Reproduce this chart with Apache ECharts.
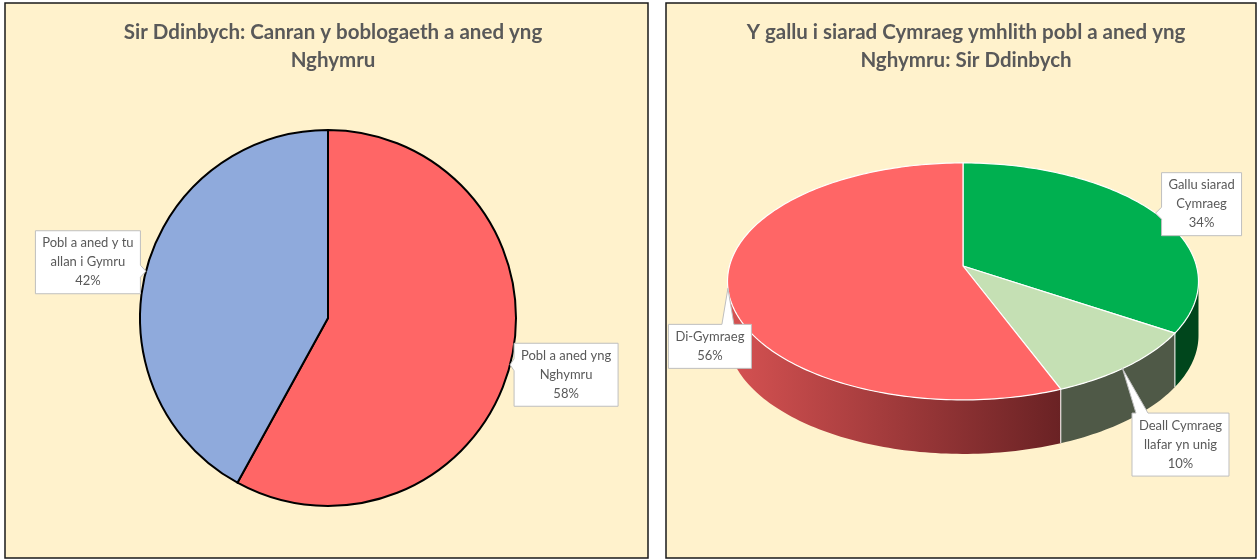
<!DOCTYPE html>
<html>
<head>
<meta charset="utf-8">
<script src="https://cdn.jsdelivr.net/npm/echarts@6/dist/echarts.min.js"></script>
<style>
  html, body { margin: 0; padding: 0; background: #fff; }
  #chart { width: 1260px; height: 560px; }
</style>
</head>
<body>
<div id="chart"></div>
<script>
// man geni - Sir Ddinbych
const birthNames = ['Pobl a aned yng\nNghymru', 'Pobl a aned y tu\nallan i Gymru'];
const birthValues = [58, 42];
// gallu siarad Cymraeg ymhlith pobl a aned yng Nghymru
const langNames = ['Gallu siarad\nCymraeg', 'Deall Cymraeg\nllafar yn unig', 'Di-Gymraeg'];
const langValues = [34, 10, 56];

// layout (pixels)
const PIE2D = { cx: 328, cy: 318, r: 188 };
// cx/cy = centre of the disc, sx/sy = half sizes, p = perspective, depth = wall height
const PIE3D = { cx: 963, cy: 266, sx: 233.5, sy: 116.5, p: 0.13, depth: 54 };
// where the callout points (fraction of slice) and box centre offset from the tip
const birthCallouts = [{ frac: 0.5, dx: 56, dy: 10 }, { frac: 0.5, dx: -58, dy: -9 }];
const langCallouts = [{ frac: 0.5, dx: 46, dy: -9 }, { frac: 0.55, dx: 58, dy: 76 }, { frac: 0.5, dx: -18, dy: 58 }];

const FONT = 'Lato, "Open Sans", sans-serif';
const LABEL_SIZE = 13;
const LINE_H = 19;
const TEXT_COLOR = '#595959';
const birthColors = ['#FF6666', '#8FAADC'];
const langTop = ['#00B050', '#C5E0B4', '#FF6666'];
const langSide = [
  '#00461C',
  '#4F5947',
  new echarts.graphic.LinearGradient(0, 0, 1, 0, [
    { offset: 0, color: '#D65252' },
    { offset: 1, color: '#6A2224' }
  ])
];

const measureCtx = document.createElement('canvas').getContext('2d');
function textWidth (text) {
  measureCtx.font = LABEL_SIZE + 'px ' + FONT;
  return Math.max(...text.split('\n').map(s => measureCtx.measureText(s).width));
}

// slice start / end angle, clockwise from 12 o'clock
function sliceAngles (values, i) {
  const total = values.reduce((a, b) => a + b, 0);
  let before = 0;
  for (let k = 0; k < i; k++) before += values[k];
  return [before / total * Math.PI * 2, (before + values[i]) / total * Math.PI * 2];
}

// callout box with a pointer to tip
function callout (tip, dx, dy, text) {
  const lines = text.split('\n');
  const w = Math.round(textWidth(text)) + 14;
  const h = lines.length * LINE_H + 6;
  const cx = tip[0] + dx;
  const cy = tip[1] + dy;
  const L = cx - w / 2, R = cx + w / 2, T = cy - h / 2, B = cy + h / 2;
  const clamp = (v, a, b) => Math.max(a, Math.min(b, v));
  let pts;
  if (tip[1] < T) {
    const x = clamp(tip[0], L + 10, R - 10);
    pts = [[L, T], [x - 6, T], tip, [x + 6, T], [R, T], [R, B], [L, B]];
  } else if (tip[1] > B) {
    const x = clamp(tip[0], L + 10, R - 10);
    pts = [[L, T], [R, T], [R, B], [x + 6, B], tip, [x - 6, B], [L, B]];
  } else if (tip[0] < L) {
    const y = clamp(tip[1], T + 10, B - 10);
    pts = [[L, T], [R, T], [R, B], [L, B], [L, y + 6], tip, [L, y - 6]];
  } else {
    const y = clamp(tip[1], T + 10, B - 10);
    pts = [[L, T], [R, T], [R, y - 6], tip, [R, y + 6], [R, B], [L, B]];
  }
  return [
    {
      type: 'polygon',
      shape: { points: pts },
      style: { fill: '#fff', stroke: '#BFBFBF', lineWidth: 1 },
      z2: 100
    },
    {
      type: 'text',
      x: cx,
      y: cy,
      style: {
        text: text,
        fill: TEXT_COLOR,
        font: LABEL_SIZE + 'px ' + FONT,
        lineHeight: LINE_H,
        align: 'center',
        verticalAlign: 'middle'
      },
      z2: 101
    }
  ];
}

// callouts for the flat pie
function renderBirthLabels (params, api) {
  const i = params.dataIndex;
  const [a0, a1] = sliceAngles(birthValues, i);
  const c = birthCallouts[i];
  const t = a0 + (a1 - a0) * c.frac;
  const tip = [PIE2D.cx + PIE2D.r * Math.sin(t), PIE2D.cy - PIE2D.r * Math.cos(t)];
  return { type: 'group', children: callout(tip, c.dx, c.dy, birthNames[i] + '\n' + api.value(0) + '%') };
}

// point on the rim of the tilted disc, seen in perspective
function rim (t, dy) {
  const P = PIE3D;
  const X = Math.sin(t), Z = Math.cos(t);
  const k = 1 + P.p * Z;
  return [P.cx + P.sx * X / k, P.cy - P.sy * Z / k + dy];
}

// 3D look pie: top face + front wall
function renderLangPie (params, api) {
  const i = params.dataIndex;
  const [a0, a1] = sliceAngles(langValues, i);
  const P = PIE3D;
  const arc = (s, e, dy) => {
    const n = Math.max(2, Math.ceil((e - s) / 0.02));
    const pts = [];
    for (let k = 0; k <= n; k++) pts.push(rim(s + (e - s) * k / n, dy));
    return pts;
  };
  const children = [];
  // front wall only where the rim faces the viewer
  const edge = Math.acos(-P.p);
  const w0 = Math.max(a0, edge);
  const w1 = Math.min(a1, Math.PI * 2 - edge);
  if (w1 > w0) {
    const wall = arc(w0, w1, 0).concat(arc(w0, w1, P.depth).reverse());
    children.push({ type: 'polygon', shape: { points: wall }, style: { fill: langSide[i] }, z2: 1 });
    if (a0 >= edge && a0 <= Math.PI * 2 - edge) {
      const p0 = rim(a0, 0), p1 = rim(a0, P.depth);
      children.push({
        type: 'line',
        shape: { x1: p0[0], y1: p0[1], x2: p1[0], y2: p1[1] },
        style: { stroke: '#fff', lineWidth: 1 },
        z2: 2
      });
    }
  }
  const top = [[P.cx, P.cy]].concat(arc(a0, a1, 0));
  children.push({
    type: 'polygon',
    shape: { points: top },
    style: { fill: langTop[i], stroke: '#fff', lineWidth: 1.2, lineJoin: 'round' },
    z2: 5
  });
  const c = langCallouts[i];
  const t = a0 + (a1 - a0) * c.frac;
  children.push(...callout(rim(t, 0), c.dx, c.dy, langNames[i] + '\n' + api.value(0) + '%'));
  return { type: 'group', children };
}

const chart = echarts.init(document.getElementById('chart'), null, { renderer: 'canvas' });
const titleStyle = { fontFamily: FONT, fontSize: 20.5, fontWeight: 'bold', color: TEXT_COLOR, lineHeight: 28 };
chart.setOption({
  animation: false,
  backgroundColor: '#fff',
  graphic: [
    { type: 'rect', z: -10, shape: { x: 5, y: 3, width: 643, height: 555 }, style: { fill: '#FFF2CC', stroke: '#1a1a1a', lineWidth: 1.5 } },
    { type: 'rect', z: -10, shape: { x: 666, y: 3, width: 590, height: 555 }, style: { fill: '#FFF2CC', stroke: '#1a1a1a', lineWidth: 1.5 } }
  ],
  title: [
    { text: 'Sir Ddinbych: Canran y boblogaeth a aned yng\nNghymru', left: 328, top: 13, textAlign: 'center', textStyle: titleStyle },
    { text: 'Y gallu i siarad Cymraeg ymhlith pobl a aned yng\nNghymru: Sir Ddinbych', left: 961, top: 13, textAlign: 'center', textStyle: titleStyle }
  ],
  series: [
    {
      type: 'pie',
      center: [PIE2D.cx, PIE2D.cy],
      radius: PIE2D.r,
      startAngle: 90,
      clockwise: true,
      silent: true,
      label: { show: false },
      labelLine: { show: false },
      itemStyle: { borderColor: '#000', borderWidth: 2 },
      data: birthNames.map((n, i) => ({ name: n, value: birthValues[i], itemStyle: { color: birthColors[i] } }))
    },
    {
      type: 'custom',
      coordinateSystem: 'none',
      silent: true,
      z: 5,
      renderItem: renderBirthLabels,
      data: birthValues.map(v => [v])
    },
    {
      type: 'custom',
      coordinateSystem: 'none',
      silent: true,
      renderItem: renderLangPie,
      data: langValues.map(v => [v])
    }
  ]
});
</script>
</body>
</html>
